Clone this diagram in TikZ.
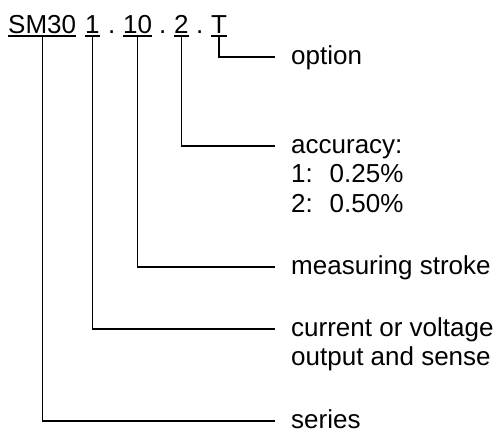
\documentclass[tikz,border=0pt]{standalone}
\usepackage{fontspec}
\setmainfont{Liberation Sans}
\begin{document}
\begin{tikzpicture}[x=1pt,y=-1pt,
  tok/.style={anchor=base west, inner sep=0pt, font=\fontsize{26}{29.5}\selectfont},
  lbl/.style={anchor=base west, inner sep=0pt, align=left, font=\fontsize{26}{29.5}\selectfont},
  wire/.style={line width=1.3pt}]
\useasboundingbox (0,0) rectangle (501,432);
% code tokens
\node[tok] (sm) at (8,33) {SM30};
\node[tok] (d1) at (85,33) {1};
\node[tok] (p1) at (108,33) {.};
\node[tok] (d10) at (123,33) {10};
\node[tok] (p2) at (159,33) {.};
\node[tok] (d2) at (174,33) {2};
\node[tok] (p3) at (196,33) {.};
\node[tok] (dT) at (211,33) {T};
\foreach \n in {sm,d1,d10,d2,dT}
  \draw[wire] ([yshift=-3pt]\n.base west) -- ([yshift=-3pt]\n.base east);
% line ends
\coordinate (eT) at (275,57);
\coordinate (e2) at (275,146);
\coordinate (e10) at (275,267);
\coordinate (e1) at (275,329);
\coordinate (eS) at (275,421);
% labels (base anchor = baseline of last line)
\node[lbl] (lT) at (291,64) {option};
\node[lbl] (l2) at (291,212) {accuracy:\\1: \ 0.25\%\\2: \ 0.50\%};
\node[lbl] (l10) at (291,274) {measuring stroke};
\node[lbl] (l1) at (291,365.5) {current or voltage\\output and sense};
\node[lbl] (lS) at (291,428) {series};
% connectors
\draw[wire] ([yshift=-3pt]dT.base) |- (eT);
\draw[wire] ([yshift=-3pt]d2.base) |- (e2);
\draw[wire] ([yshift=-3pt]d10.base) |- (e10);
\draw[wire] ([yshift=-3pt]d1.base) |- (e1);
\draw[wire] ([yshift=-3pt]sm.base) |- (eS);
\end{tikzpicture}
\end{document}
